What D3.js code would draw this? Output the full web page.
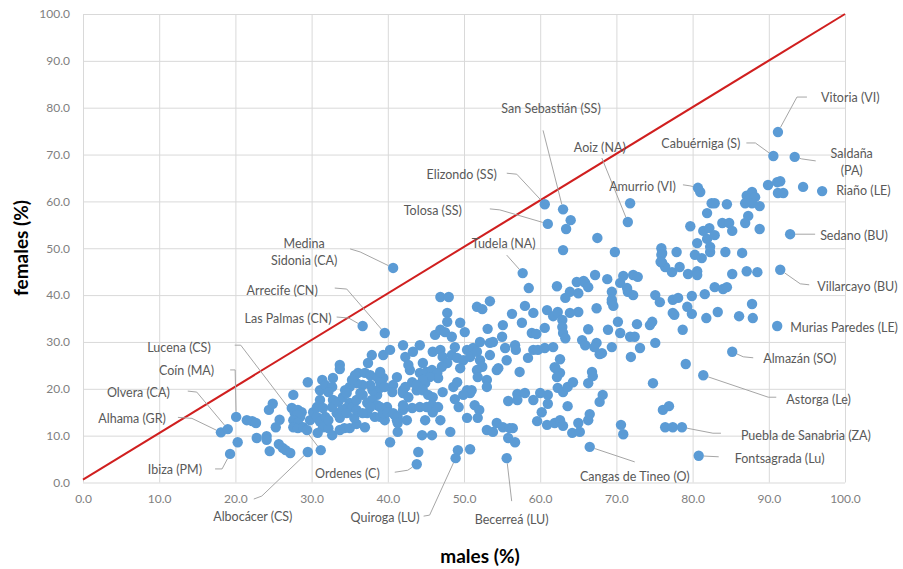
<!DOCTYPE html>
<html>
<head>
<meta charset="utf-8">
<script src="https://cdn.jsdelivr.net/npm/d3@7"></script>
<style>
  html, body { margin: 0; padding: 0; background: #fff; }
  svg { display: block; font-family: Lato, "Open Sans", sans-serif; }
</style>
</head>
<body>
<svg id="chart" width="903" height="569"></svg>
<script>
// axis ticks
const xTicks = [0, 10, 20, 30, 40, 50, 60, 70, 80, 90, 100];
const yTicks = [0, 10, 20, 30, 40, 50, 60, 70, 80, 90, 100];

// equality reference line (males %, females %)
const parityLine = [[0, 0.6], [100, 100]];

// municipalities with a data label: [name, males %, females %]
const labelledPoints = [
  ['Vitoria (VI)', 91.2, 74.8],
  ['Cabuérniga (S)', 90.6, 69.7],
  ['Saldaña\n(PA)', 93.4, 69.5],
  ['Riaño (LE)', 97.0, 62.2],
  ['Sedano (BU)', 92.8, 53.0],
  ['Villarcayo (BU)', 91.5, 45.4],
  ['Murias Paredes (LE)', 91.1, 33.4],
  ['Almazán (SO)', 85.2, 27.9],
  ['Astorga (Le)', 81.4, 22.9],
  ['Puebla de Sanabria (ZA)', 78.6, 11.8],
  ['Fontsagrada (Lu)', 80.8, 5.7],
  ['Cangas de Tineo (O)', 66.5, 7.6],
  ['Becerreá (LU)', 55.6, 5.2],
  ['Quiroga (LU)', 48.9, 5.2],
  ['Ordenes (C)', 43.8, 3.9],
  ['Albocácer (CS)', 29.5, 6.5],
  ['Ibiza (PM)', 19.3, 6.1],
  ['Alhama (GR)', 18.1, 10.7],
  ['Olvera (CA)', 19.0, 11.4],
  ['Coín (MA)', 20.1, 14.0],
  ['Lucena (CS)', 31.2, 6.9],
  ['Las Palmas (CN)', 36.7, 33.4],
  ['Arrecife (CN)', 39.6, 31.9],
  ['Medina\nSidonia (CA)', 40.7, 45.8],
  ['Tudela (NA)', 57.7, 44.7],
  ['Tolosa (SS)', 61.0, 55.2],
  ['Elizondo (SS)', 60.6, 59.4],
  ['San Sebastián (SS)', 63.0, 58.3],
  ['Aoiz (NA)', 71.5, 55.6],
  ['Amurrio (VI)', 80.7, 62.9]
];

// other municipalities: [males %, females %]
const pointsWest = [
  [20.3,8.6],[21.5,13.3],[22.2,13.1],[22.7,12.7],[22.8,9.5],[24.1,9.9],[24.1,9.1],[24.5,6.7],[24.4,15.5],[24.9,16.8],
  [25.3,11.8],[25.8,13.4],[25.7,8.2],[26.2,7.4],[26.6,6.9],[27.2,6.3],[27.6,18.7],[27.4,15.9],[27.8,14.8],[28.2,15.5],
  [28.7,15.0],[28.5,14.0],[28.1,14.4],[27.6,13.3],[28.2,12.7],[27.6,11.8],[28.2,11.6],[28.9,11.8],[29.4,11.2],
  [29.5,21.4],[29.8,13.3],[30.2,15.0],[30.7,14.0],[31.1,13.0],[31.5,11.8],[31.8,14.0],[32.2,11.6],[32.2,13.3],[30.8,10.6],
  [32.7,10.1],[32.8,17.6],[33.3,14.8],[33.7,13.8],[33.7,11.2],[34.3,11.6],[35.0,17.0],[35.0,11.6],[35.9,12.5],[35.6,13.8],
  [37.0,11.8],[37.3,14.8],[38.3,14.0],[38.6,18.7],[39.9,16.1],
  [31.4,21.9],[31.1,19.7],[31.8,20.8],[32.7,20.4],[32.2,19.3],[31.1,17.6],[30.7,16.1],[31.5,15.9],[32.7,16.1],[33.5,17.2],
  [34.1,18.2],[34.6,15.9],[35.4,16.1],[35.9,17.6],[36.7,18.7],[37.3,17.0],[37.9,17.6],[38.6,16.5],[39.0,16.1],[39.0,14.0],
  [39.6,13.3],[38.0,19.7],[39.0,20.2],[37.7,20.8],[36.7,20.8],[35.9,21.2],[35.0,20.4],[34.4,19.7],[36.1,23.4],[37.0,23.4],
  [37.7,22.9],[38.6,22.5],[39.4,22.3],[37.4,25.5],[33.7,25.1],[33.7,24.2],[37.9,27.2],[39.4,27.2],
  [35.7,22.9],[35.3,21.9],[36.4,19.1],[34.6,19.1],[32.8,22.3],[34.0,15.5],[34.6,14.8],[35.9,15.5],[36.7,14.8],[37.7,16.1],
  [39.4,14.8],[39.0,21.4],[39.6,20.4],[39.0,23.6]
];

const pointsCentre = [
  [40.0,15.0],[40.3,8.6],[41.3,10.8],[41.2,13.3],[42.5,13.3],[44.0,6.5],[44.5,10.1],[45.8,10.1],[46.9,13.3],[47.2,19.3],[48.2,10.8],
  [40.3,28.3],[42.0,29.3],[42.3,26.8],[43.3,27.9],[44.2,29.3],[42.9,24.0],[42.7,25.1],[43.2,21.4],[43.8,19.7],[44.9,21.2],
  [41.2,22.5],[40.7,20.8],[42.0,19.7],[40.9,14.4],[42.0,15.5],[43.2,15.9],[44.2,16.1],[44.9,13.3],
  [46.9,39.6],[48.0,39.6],[51.7,37.5],[52.4,37.0],[53.4,38.7],[47.8,36.2],[47.8,34.3],[49.5,34.1],[50.1,32.1],[46.2,31.5],
  [46.9,32.6],[47.5,32.1],[48.4,31.1],[53.1,32.8],[55.0,31.1],[55.1,33.6],[56.3,36.0],[57.6,34.1],[58.0,37.7],[59.1,36.2],
  [58.5,41.5],[58.9,31.9],[59.5,31.7],
  [45.9,27.9],[46.9,28.3],[47.2,26.8],[48.4,27.2],[48.8,28.9],[47.8,25.5],[47.1,24.7],[44.6,25.5],[44.2,23.4],[45.1,23.6],
  [45.8,24.0],[46.5,23.4],[46.6,22.3],[45.5,22.5],[44.6,21.9],[43.8,20.8],[42.3,20.4],[42.0,19.1],[40.6,19.3],
  [49.1,26.6],[49.9,26.1],[49.5,24.4],[50.4,28.3],[51.2,28.7],[50.8,26.8],[51.7,27.9],[52.1,26.1],[52.4,24.7],[52.1,30.0],
  [53.4,29.8],[53.8,30.0],[53.4,27.2],[54.5,24.4],[53.0,21.9],[53.0,20.4],[51.7,24.0],[51.8,22.5],[50.8,19.1],
  [55.4,28.7],[55.6,26.1],[56.7,29.3],[56.8,28.3],[58.4,26.6],[59.1,28.3],[59.7,28.3],[54.3,24.0],[57.3,23.6],[55.8,17.4],
  [57.0,18.9],[58.0,19.1],[59.1,17.6],[57.0,17.6],
  [48.6,20.4],[49.1,21.4],[48.8,17.8],[49.3,16.1],[50.4,19.7],[51.0,19.7],[49.9,18.7],[51.4,16.5],[52.0,15.5],[50.4,13.8],[51.8,13.8],
  [44.6,19.7],[45.3,18.7],[45.9,18.2],[45.8,16.5],[45.9,15.0],[46.6,16.1],[45.1,16.1],[42.7,18.2],[42.0,16.5],[40.7,14.8],
  [41.3,14.0],[41.3,12.7],
  [49.2,6.9],[50.8,7.1],[53.0,11.2],[53.8,10.8],[54.3,12.7],[55.1,11.8],[56.0,11.6],[56.4,11.6],[55.8,9.5],[56.7,8.6],[59.6,13.1]
];

const pointsEast = [
  [60.9,36.8],[60.6,28.7],[61.7,28.9],[62.0,24.4],[62.2,22.5],[62.6,23.4],[60.0,19.1],[61.0,18.7],[60.2,15.0],[60.9,12.3],
  [61.9,12.7],[62.6,13.3],[61.0,16.8],[62.3,20.2],[63.0,19.3],[63.6,20.4],[64.3,21.4],[66.3,21.2],[63.0,12.1],[64.2,10.6],
  [65.0,12.7],[65.2,10.8],[66.3,13.3],[66.5,14.6],[67.8,17.2],[68.2,18.7],[70.6,12.3],[70.9,10.3],[74.8,21.2],[76.1,15.5],
  [76.9,16.3],[76.4,11.8],[77.4,11.8],
  [62.6,26.3],[61.9,24.6],[66.8,23.6],[66.9,22.7],[63.6,16.3],
  [67.2,44.3],[65.9,42.6],[63.9,40.7],[63.3,39.4],[65.0,40.4],[71.5,40.7],[69.4,38.5],[67.4,37.2],[61.7,35.5],[62.3,36.4],
  [65.0,36.4],[63.9,36.2],[62.9,34.7],[62.9,33.2],[63.0,31.9],[63.3,30.8],[60.6,33.0],[66.3,32.7],[72.7,33.8],[65.5,30.4],
  [65.9,29.3],[67.4,29.8],[67.1,28.9],[67.8,27.4],
  [62.2,41.9],[64.8,42.8],[65.7,43.0],[66.3,41.7],[68.8,43.4],[70.5,42.6],[70.9,44.1],[72.2,44.3],[72.8,43.9],[71.4,41.5],
  [69.8,49.2],[76.0,49.0],[77.9,49.2],[80.3,48.6],[81.2,47.9],[82.3,49.2],[84.3,49.2],[86.5,49.0],[76.0,46.9],[76.4,46.0],
  [77.3,44.9],[78.3,46.0],[79.4,44.5],[80.6,45.1],[80.6,44.3],[85.2,44.5],[87.1,45.1],[88.5,44.9],
  [69.4,40.7],[69.4,39.0],[69.6,37.7],[72.2,40.0],[75.1,40.0],[75.7,38.5],[77.4,39.0],[78.1,39.4],[79.3,37.5],[79.9,39.8],
  [81.6,40.2],[82.9,41.7],[84.0,41.3],[84.5,41.7],[87.8,38.1],[87.9,35.1],[86.1,35.5],[83.3,36.4],[81.8,35.1],[79.9,36.0],
  [77.6,35.8],[77.4,36.2],[78.7,32.6],
  [70.2,34.3],[68.9,32.6],[70.5,31.9],[71.8,31.1],[72.4,31.1],[74.4,33.6],[74.7,34.3],[75.1,29.8],[73.1,28.7],[71.9,26.8],
  [69.4,28.9],[68.1,27.6],[79.1,25.3],
  [81.0,62.0],[89.9,63.5],[91.1,64.1],[91.5,64.3],[94.5,63.1],[91.2,61.8],[91.9,61.8],[87.1,61.2],[87.8,62.0],[87.5,60.5],
  [88.2,60.9],[87.8,59.6],[88.8,59.0],[86.9,59.6],[82.5,59.6],[82.9,59.6],[84.5,59.4],[81.9,57.5],[87.3,56.9],[86.9,55.4],
  [83.9,55.4],[84.8,55.4],[85.2,53.7],[88.8,54.1],[79.7,54.7],[81.4,53.7],[82.2,54.3],[81.9,52.0],[82.9,52.8],[80.6,51.1],
  [82.3,50.3],
  [71.8,59.6],[64.0,56.0],[63.4,54.1],[67.5,52.2],[63.0,49.6],[75.9,50.0],[75.9,48.6],[75.8,47.1]
];

// label placement, pixel offsets from the point: text offset, anchor, leader bend points
const labelLayout = {
  'Vitoria (VI)':            { dx: 43,   dy: -35, anchor: 'start',  leader: [[29,-35],[19,-35]] },
  'Cabuérniga (S)':          { dx: -33,  dy: -13, anchor: 'end',    leader: [[-27,-13],[-18,-13]] },
  'Saldaña\n(PA)':           { dx: 57,   dy: -4,  anchor: 'middle', leader: [[21,4],[7,2]] },
  'Riaño (LE)':              { dx: 14,   dy: -1,  anchor: 'start',  leader: [] },
  'Sedano (BU)':             { dx: 30,   dy: 1,   anchor: 'start',  leader: [[25,0]] },
  'Villarcayo (BU)':         { dx: 37,   dy: 16,  anchor: 'start',  leader: [[29,15],[20,14]] },
  'Murias Paredes (LE)':     { dx: 13,   dy: 1,   anchor: 'start',  leader: [] },
  'Almazán (SO)':            { dx: 31,   dy: 6,   anchor: 'start',  leader: [[21,6],[11,5]] },
  'Astorga (Le)':            { dx: 83,   dy: 24,  anchor: 'start',  leader: [[73,22],[65,22]] },
  'Puebla de Sanabria (ZA)': { dx: 59,   dy: 8,   anchor: 'start',  leader: [[39,6],[31,6]] },
  'Fontsagrada (Lu)':        { dx: 36,   dy: 2,   anchor: 'start',  leader: [[20,1]] },
  'Cangas de Tineo (O)':     { dx: 45,   dy: 29,  anchor: 'middle', leader: [[45,15]] },
  'Becerreá (LU)':           { dx: 5,    dy: 61,  anchor: 'middle', leader: [[5,43]] },
  'Quiroga (LU)':            { dx: -36,  dy: 59,  anchor: 'end',    leader: [[-32,58],[-26,57]] },
  'Ordenes (C)':             { dx: -37,  dy: 9,   anchor: 'end',    leader: [[-22,8],[-9,6]] },
  'Albocácer (CS)':          { dx: -55,  dy: 64,  anchor: 'middle', leader: [[-54,47],[-46,44]] },
  'Ibiza (PM)':              { dx: -28,  dy: 15,  anchor: 'end',    leader: [[-15,15],[-8,15]] },
  'Alhama (GR)':             { dx: -55,  dy: -14, anchor: 'end',    leader: [[-43,-15],[-29,-14]] },
  'Olvera (CA)':             { dx: -58,  dy: -37, anchor: 'end',    leader: [[-40,-38],[-31,-37]] },
  'Coín (MA)':               { dx: -22,  dy: -47, anchor: 'end',    leader: [[-6,-47],[-1,-47]] },
  'Lucena (CS)':             { dx: -110, dy: -103,anchor: 'end',    leader: [[-86,-105],[-80,-105]] },
  'Las Palmas (CN)':         { dx: -31,  dy: -8,  anchor: 'end',    leader: [[-26,-9],[-14,-8]] },
  'Arrecife (CN)':           { dx: -67,  dy: -43, anchor: 'end',    leader: [[-50,-45],[-38,-44]] },
  'Medina\nSidonia (CA)':    { dx: -89,  dy: -25, anchor: 'middle', leader: [[-43,-19],[-33,-16]] },
  'Tudela (NA)':             { dx: -19,  dy: -30, anchor: 'middle', leader: [[-16,-18]] },
  'Tolosa (SS)':             { dx: -86,  dy: -14, anchor: 'end',    leader: [[-58,-15],[-48,-14]] },
  'Elizondo (SS)':           { dx: -48,  dy: -30, anchor: 'end',    leader: [[-38,-31],[-28,-30]] },
  'San Sebastián (SS)':      { dx: -12,  dy: -101,anchor: 'middle', leader: [[-20,-79]] },
  'Aoiz (NA)':               { dx: -28,  dy: -75, anchor: 'middle', leader: [[-26,-64]] },
  'Amurrio (VI)':            { dx: -22,  dy: -2,  anchor: 'end',    leader: [[-15,-3],[-8,-2]] }
};

const svg = d3.select('#chart');
const plot = { left: 83, right: 845, top: 14, bottom: 482.5 };

const x = d3.scaleLinear().domain([0, 100]).range([plot.left, plot.right]);
const y = d3.scaleLinear().domain([0, 100]).range([plot.bottom, plot.top]);

// Gridlines + tick labels
const xAxis = svg.append('g')
  .attr('transform', `translate(0,${plot.bottom})`)
  .call(d3.axisBottom(x).tickValues(xTicks).tickFormat(d3.format('.1f'))
    .tickSize(-(plot.bottom - plot.top)).tickPadding(12));
const yAxis = svg.append('g')
  .attr('transform', `translate(${plot.left},0)`)
  .call(d3.axisLeft(y).tickValues(yTicks).tickFormat(d3.format('.1f'))
    .tickSize(-(plot.right - plot.left)).tickPadding(13));

[xAxis, yAxis].forEach(a => {
  a.select('.domain').remove();
  a.selectAll('.tick line').attr('stroke', '#d9d9d9').attr('stroke-width', 1);
  a.selectAll('.tick text')
    .attr('fill', '#7f7f7f')
    .style('font-family', 'Lato, sans-serif')
    .style('font-size', '12px');
});

// Equality line
svg.append('path')
  .datum(parityLine)
  .attr('d', d3.line().x(d => x(d[0])).y(d => y(d[1])))
  .attr('fill', 'none')
  .attr('stroke', '#d01f1f')
  .attr('stroke-width', 2);

// Leader lines (stop at the marker edge)
const r = 5.2;
const leaderG = svg.append('g');
labelledPoints.forEach(([name, m, f]) => {
  const lay = labelLayout[name];
  if (!lay.leader.length) return;
  const px = x(m), py = y(f);
  const pts = lay.leader.map(([dx, dy]) => [px + dx, py + dy]);
  const last = pts[pts.length - 1];
  const len = Math.hypot(px - last[0], py - last[1]);
  pts.push([px - (px - last[0]) * r / len, py - (py - last[1]) * r / len]);
  leaderG.append('path')
    .attr('d', d3.line()(pts))
    .attr('fill', 'none')
    .attr('stroke', '#a6a6a6')
    .attr('stroke-width', 1);
});

// Markers
const allPoints = pointsWest.concat(pointsCentre, pointsEast,
  labelledPoints.map(d => [d[1], d[2]]));
svg.append('g')
  .selectAll('circle')
  .data(allPoints)
  .enter().append('circle')
  .attr('cx', d => x(d[0]))
  .attr('cy', d => y(d[1]))
  .attr('r', r)
  .attr('fill', '#5b9bd5');

// Data labels
const labelG = svg.append('g')
  .style('font-family', 'Lato, sans-serif')
  .style('font-size', '12.5px')
  .attr('fill', '#595959');
labelledPoints.forEach(([name, m, f]) => {
  const lay = labelLayout[name];
  const t = labelG.append('text')
    .attr('text-anchor', lay.anchor)
    .attr('dominant-baseline', 'central');
  name.split('\n').forEach((line, i) => {
    t.append('tspan')
      .attr('x', x(m) + lay.dx)
      .attr('y', y(f) + lay.dy + i * 17)
      .text(line);
  });
});

// Axis titles
svg.append('text')
  .attr('transform', `translate(20,248) rotate(-90)`)
  .attr('text-anchor', 'middle')
  .attr('dominant-baseline', 'central')
  .style('font-family', 'Lato, sans-serif')
  .style('font-size', '19px')
  .style('font-weight', 'bold')
  .attr('fill', '#000')
  .text('females (%)');

svg.append('text')
  .attr('x', 480)
  .attr('y', 555)
  .attr('text-anchor', 'middle')
  .attr('dominant-baseline', 'central')
  .style('font-family', 'Lato, sans-serif')
  .style('font-size', '19px')
  .style('font-weight', 'bold')
  .attr('fill', '#000')
  .text('males (%)');
</script>
</body>
</html>
